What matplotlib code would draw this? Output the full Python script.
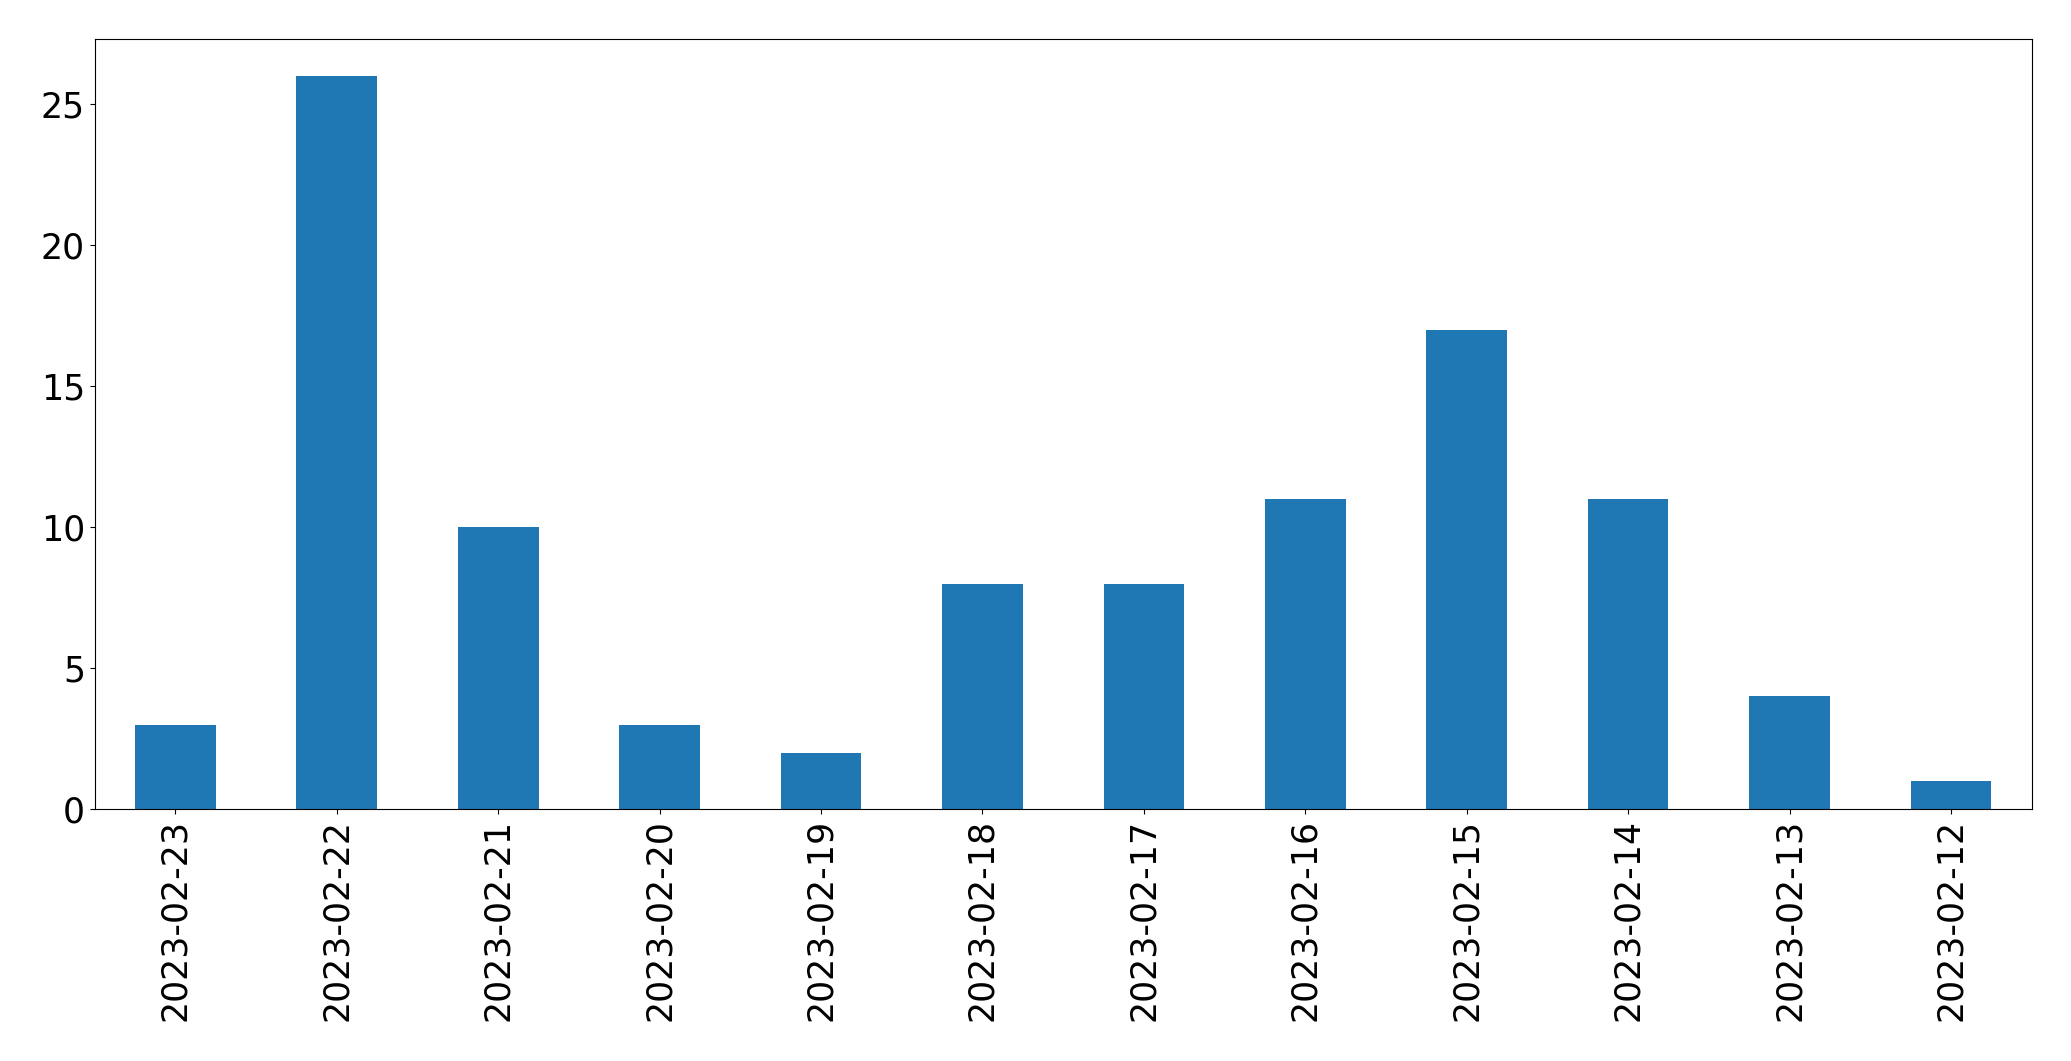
import matplotlib
matplotlib.use("Agg")
import matplotlib.pyplot as plt

dates = ["2023-02-23", "2023-02-22", "2023-02-21", "2023-02-20", "2023-02-19", "2023-02-18",
         "2023-02-17", "2023-02-16", "2023-02-15", "2023-02-14", "2023-02-13", "2023-02-12"]
counts = [3, 26, 10, 3, 2, 8, 8, 11, 17, 11, 4, 1]

fig = plt.figure(figsize=(20.71, 10.61), dpi=100)
ax = fig.add_axes([0.0457, 0.2372, 0.9353, 0.7258])
x = range(len(dates))
ax.bar(x, counts, width=0.5, color="#1f77b4")
ax.set_xlim(-0.5, len(dates) - 0.5)
ax.set_ylim(0, 27.3)
ax.set_xticks(list(x))
ax.set_xticklabels(dates, rotation=90)
ax.tick_params(labelsize=25)
fig.savefig("out.png", dpi=100)
